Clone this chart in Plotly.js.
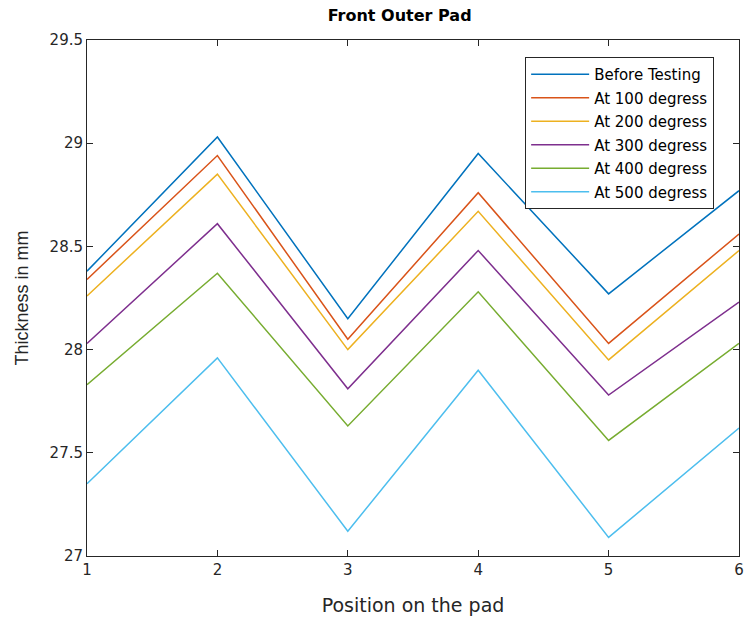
<!DOCTYPE html>
<html>
<head>
<meta charset="utf-8">
<script src="https://cdn.plot.ly/plotly-3.0.1.min.js"></script>
<style>
  html, body { margin: 0; padding: 0; background: #fff; }
  #chart { width: 747px; height: 626px; }
</style>
</head>
<body>
<div id="chart"></div>
<script>
// Pad thickness (mm) measured at six positions, before and after heat testing
const positions = [1, 2, 3, 4, 5, 6];
const beforeTesting = [28.38, 29.03, 28.15, 28.95, 28.27, 28.77];
const at100 = [28.34, 28.94, 28.05, 28.76, 28.03, 28.56];
const at200 = [28.26, 28.85, 28.00, 28.67, 27.95, 28.48];
const at300 = [28.03, 28.61, 27.81, 28.48, 27.78, 28.23];
const at400 = [27.83, 28.37, 27.63, 28.28, 27.56, 28.03];
const at500 = [27.35, 27.96, 27.12, 27.90, 27.09, 27.62];

const seriesNames = ['Before Testing', 'At 100 degress', 'At 200 degress',
                     'At 300 degress', 'At 400 degress', 'At 500 degress'];
const seriesValues = [beforeTesting, at100, at200, at300, at400, at500];
const seriesColors = ['#0072BD', '#D95319', '#EDB120', '#7E2F8E', '#77AC30', '#4DBEEE'];

const yTicks = [27, 27.5, 28, 28.5, 29, 29.5];
const yTickLabels = ['27', '27.5', '28', '28.5', '29', '29.5'];

const traces = seriesValues.map((vals, i) => ({
  x: positions,
  y: vals,
  type: 'scatter',
  mode: 'lines',
  name: seriesNames[i],
  legendgroup: 'g' + i,
  line: { color: seriesColors[i], width: 1.5 }
}));

const axisColor = '#262626';
const wide = 'DejaVu Sans, Verdana, sans-serif';
const narrow = 'Liberation Sans, Arial, Helvetica, sans-serif';

const layout = {
  width: 747,
  height: 626,
  margin: { l: 87, r: 8, t: 40, b: 70 },
  paper_bgcolor: '#ffffff',
  plot_bgcolor: '#ffffff',
  font: { family: wide, color: axisColor, size: 15 },
  title: {
    text: '<b>Front Outer Pad</b>',
    font: { family: wide, size: 16, color: '#000000' },
    x: 0.535, xanchor: 'center', y: 0.975, yanchor: 'middle'
  },
  xaxis: {
    range: [1, 6],
    tickvals: positions,
    ticktext: positions.map(String),
    ticks: 'inside', ticklen: 6, tickcolor: axisColor, tickwidth: 1,
    showline: true, linecolor: axisColor, linewidth: 1, mirror: 'ticks',
    showgrid: false, zeroline: false,
    tickfont: { family: wide, size: 15, color: axisColor },
    title: { text: 'Position on the pad', font: { family: wide, size: 19, color: axisColor }, standoff: 20 }
  },
  yaxis: {
    range: [27, 29.5],
    tickvals: yTicks,
    ticktext: yTickLabels,
    ticks: 'inside', ticklen: 6, tickcolor: axisColor, tickwidth: 1,
    showline: true, linecolor: axisColor, linewidth: 1, mirror: 'ticks',
    showgrid: false, zeroline: false,
    tickfont: { family: wide, size: 15, color: axisColor },
    title: { text: 'Thickness in mm', font: { family: narrow, size: 18, color: axisColor }, standoff: 16 }
  },
  showlegend: true,
  legend: {
    x: 0.672, y: 0.967, xanchor: 'left', yanchor: 'top',
    bgcolor: '#ffffff', bordercolor: axisColor, borderwidth: 1,
    font: { family: wide, size: 15, color: '#000000' },
    itemwidth: 58,
    tracegroupgap: 1
  }
};

Plotly.newPlot('chart', traces, layout, { displayModeBar: false, staticPlot: true });
</script>
</body>
</html>
